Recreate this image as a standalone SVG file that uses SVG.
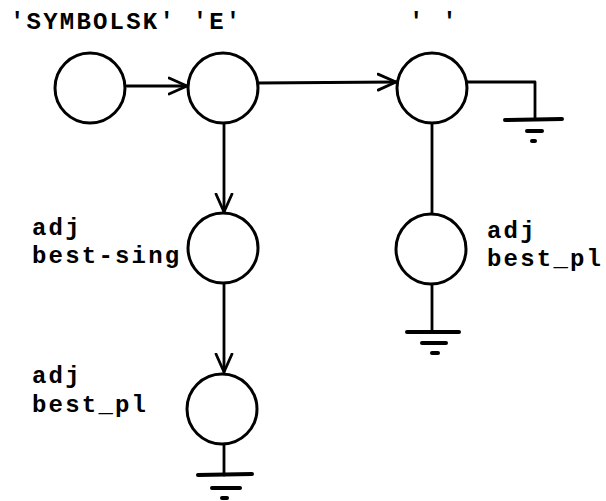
<svg xmlns="http://www.w3.org/2000/svg" width="606" height="501" viewBox="0 0 606 501">
<style>
.n{fill:#fff;stroke:#000;stroke-width:3}
.e{fill:none;stroke:#000;stroke-width:2.8;stroke-linecap:round;stroke-linejoin:round}
.g{fill:none;stroke:#000;stroke-width:4;stroke-linecap:round}
.t{font-family:"Liberation Mono","Courier New",monospace;font-weight:bold;font-size:24px;letter-spacing:2.2px;fill:#000}
</style>
<defs>
<marker id="ah" viewBox="0 0 20 20" refX="19" refY="10" markerWidth="20" markerHeight="20" markerUnits="userSpaceOnUse" orient="auto">
<path d="M1,2 L19,10 L1,18" fill="none" stroke="#000" stroke-width="2.8" stroke-linecap="round" stroke-linejoin="round"/>
</marker>
</defs>
<rect width="606" height="501" fill="#fff"/>
<g id="connectors">
<line class="e" x1="127" y1="86" x2="187" y2="86" marker-end="url(#ah)"/>
<line class="e" x1="258" y1="83" x2="396" y2="82" marker-end="url(#ah)"/>
<line class="e" x1="224" y1="123" x2="224" y2="212" marker-end="url(#ah)"/>
<line class="e" x1="224" y1="283" x2="224" y2="372" marker-end="url(#ah)"/>
<line class="e" x1="432" y1="123" x2="432" y2="214"/>
<polyline class="e" points="467,82 535,82 535,119"/>
<line class="e" x1="432" y1="284" x2="432" y2="332"/>
<line class="e" x1="224" y1="444" x2="224" y2="475"/>
</g>
<g id="ground1">
<line class="g" x1="505" y1="120" x2="562" y2="119"/>
<line class="g" x1="527" y1="131" x2="542" y2="131"/>
<line class="g" x1="532" y1="141" x2="535" y2="141"/>
</g>
<g id="ground2">
<line class="g" x1="407" y1="332" x2="459" y2="332"/>
<line class="g" x1="422" y1="343" x2="446" y2="343"/>
<line class="g" x1="432" y1="353" x2="438" y2="353"/>
</g>
<g id="ground3">
<line class="g" x1="198" y1="475" x2="252" y2="474"/>
<line class="g" x1="212" y1="488" x2="240" y2="488"/>
<line class="g" x1="222" y1="498" x2="227" y2="498"/>
</g>
<g id="nodeA"><circle class="n" cx="90" cy="88" r="35"/></g>
<g id="nodeB"><circle class="n" cx="223" cy="88" r="35"/>
<text class="t" x="10" y="29">'SYMBOLSK' 'E'</text></g>
<g id="nodeC"><circle class="n" cx="432" cy="88" r="35"/>
<text class="t" x="409" y="29">' '</text></g>
<g id="nodeD"><circle class="n" cx="431" cy="249" r="35"/>
<text class="t" x="487" y="238">adj</text>
<text class="t" x="487" y="266">best_pl</text></g>
<g id="nodeE"><circle class="n" cx="223" cy="248" r="35"/>
<text class="t" x="32" y="235">adj</text>
<text class="t" x="32" y="263">best-sing</text></g>
<g id="nodeF"><circle class="n" cx="222" cy="409" r="35"/>
<text class="t" x="32" y="383">adj</text>
<text class="t" x="32" y="412">best_pl</text></g>
</svg>
